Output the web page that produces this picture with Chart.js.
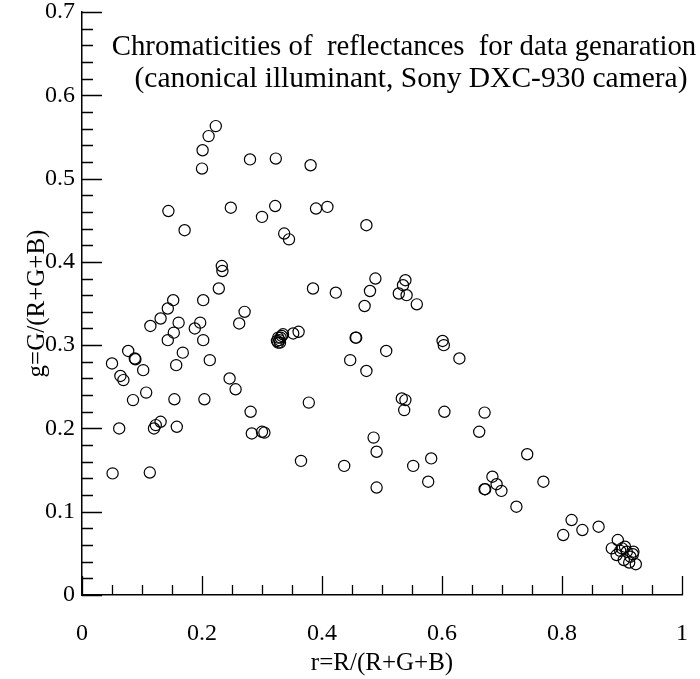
<!DOCTYPE html>
<html>
<head>
<meta charset="utf-8">
<script src="https://cdn.jsdelivr.net/npm/chart.js@4/dist/chart.umd.min.js"></script>
<style>
  html, body { margin: 0; padding: 0; background: #fff; }
  #wrap { width: 700px; height: 679px; }
</style>
</head>
<body>
<div id="wrap"><canvas id="c" width="700" height="679"></canvas></div>
<script>
// r = R/(R+G+B)
const rValues = [
  0.223, 0.211, 0.201, 0.200, 0.280, 0.323, 0.381, 0.144, 0.248, 0.300,
  0.322, 0.390, 0.409, 0.171, 0.337, 0.345, 0.474, 0.233, 0.234, 0.228,
  0.202, 0.152, 0.143, 0.271, 0.131, 0.114, 0.161, 0.197, 0.188, 0.262,
  0.153, 0.143, 0.202, 0.077, 0.168, 0.088, 0.089, 0.050, 0.157, 0.213,
  0.102, 0.064, 0.069, 0.246, 0.256, 0.107, 0.085, 0.154, 0.204, 0.281,
  0.062, 0.120, 0.123, 0.131, 0.158, 0.283, 0.300, 0.304, 0.051, 0.113,
  0.365, 0.437, 0.486, 0.491, 0.491, 0.552, 0.582, 0.577, 0.489, 0.480,
  0.471, 0.385, 0.423, 0.539, 0.535, 0.528, 0.541, 0.558, 0.325, 0.327,
  0.329, 0.331, 0.333, 0.327, 0.330, 0.335, 0.352, 0.361, 0.456, 0.457,
  0.507, 0.447, 0.474, 0.601, 0.603, 0.629, 0.378, 0.533, 0.539, 0.537,
  0.604, 0.671, 0.662, 0.742, 0.684, 0.691, 0.671, 0.672, 0.699, 0.769,
  0.724, 0.816, 0.802, 0.834, 0.861, 0.893, 0.883, 0.891, 0.900, 0.908,
  0.903, 0.914, 0.918, 0.912, 0.923, 0.897, 0.905, 0.919
];
// g = G/(R+G+B)
const gValues = [
  0.563, 0.551, 0.534, 0.512, 0.523, 0.524, 0.516, 0.461, 0.465, 0.454,
  0.467, 0.464, 0.466, 0.438, 0.434, 0.427, 0.444, 0.395, 0.389, 0.368,
  0.354, 0.354, 0.344, 0.340, 0.332, 0.323, 0.327, 0.327, 0.320, 0.326,
  0.315, 0.306, 0.306, 0.293, 0.291, 0.284, 0.283, 0.278, 0.276, 0.282,
  0.270, 0.263, 0.258, 0.260, 0.247, 0.243, 0.234, 0.235, 0.235, 0.220,
  0.200, 0.200, 0.204, 0.208, 0.202, 0.194, 0.196, 0.195, 0.146, 0.147,
  0.161, 0.155, 0.189, 0.172, 0.129, 0.155, 0.164, 0.136, 0.380, 0.365,
  0.347, 0.368, 0.363, 0.378, 0.372, 0.362, 0.360, 0.349, 0.305, 0.303,
  0.306, 0.309, 0.311, 0.309, 0.303, 0.313, 0.314, 0.316, 0.309, 0.309,
  0.293, 0.282, 0.269, 0.305, 0.300, 0.284, 0.231, 0.236, 0.234, 0.222,
  0.220, 0.219, 0.196, 0.169, 0.142, 0.133, 0.127, 0.127, 0.125, 0.136,
  0.106, 0.090, 0.072, 0.078, 0.082, 0.066, 0.056, 0.048, 0.056, 0.052,
  0.042, 0.046, 0.049, 0.039, 0.037, 0.053, 0.058, 0.052
];
const xTickValues = [0, 0.2, 0.4, 0.6, 0.8, 1];
const xTickLabels = ["0", "0.2", "0.4", "0.6", "0.8", "1"];
const yTickValues = [0, 0.1, 0.2, 0.3, 0.4, 0.5, 0.6, 0.7];
const yTickLabels = ["0", "0.1", "0.2", "0.3", "0.4", "0.5", "0.6", "0.7"];
const titleLines = [
  "Chromaticities of  reflectances  for data genaration",
  "(canonical illuminant, Sony DXC-930 camera)"
];
const xAxisTitle = "r=R/(R+G+B)";
const yAxisTitle = "g=G/(R+G+B)";

const FONT = '"Liberation Serif", "Times New Roman", serif';

const points = rValues.map((r, i) => ({ x: r, y: gValues[i] }));

// Inward tick marks drawn from the scales
const tickPlugin = {
  id: 'inwardTicks',
  afterDraw(chart) {
    const ctx = chart.ctx;
    const xs = chart.scales.x, ys = chart.scales.y;
    const area = chart.chartArea;
    ctx.save();
    ctx.strokeStyle = '#000';
    ctx.lineWidth = 1.3;
    ctx.beginPath();
    for (let k = 0; k <= 20; k++) {
      const v = k * 0.05;
      const px = Math.round(xs.getPixelForValue(v)) + 0.5;
      const len = (k % 4 === 0) ? 19 : 10;
      ctx.moveTo(px, area.bottom);
      ctx.lineTo(px, area.bottom - len);
    }
    for (let k = 0; k <= 35; k++) {
      const v = k * 0.02;
      const py = Math.round(ys.getPixelForValue(v)) + 0.5;
      const len = (k % 5 === 0) ? 20 : 11;
      ctx.moveTo(area.left, py);
      ctx.lineTo(area.left + len, py);
    }
    ctx.stroke();
    ctx.restore();
  }
};

const titlePlugin = {
  id: 'innerTitle',
  afterDraw(chart) {
    const ctx = chart.ctx;
    ctx.save();
    ctx.fillStyle = '#000';
    ctx.font = '28.8px ' + FONT;
    ctx.textAlign = 'center';
    ctx.textBaseline = 'middle';
    ctx.fillText(titleLines[0], 404, 47);
    ctx.font = '29.5px ' + FONT;
    ctx.fillText(titleLines[1], 411, 79);
    ctx.restore();
  }
};

function noOverhang(scale) {
  scale.paddingLeft = 0; scale.paddingRight = 0;
  scale.paddingTop = 0; scale.paddingBottom = 0;
}

new Chart(document.getElementById('c'), {
  type: 'scatter',
  data: {
    datasets: [{
      data: points,
      pointStyle: 'circle',
      pointRadius: 5.6,
      pointHoverRadius: 5.6,
      pointBorderWidth: 1.2,
      pointBorderColor: '#000',
      pointBackgroundColor: 'rgba(0,0,0,0)',
      showLine: false
    }]
  },
  options: {
    responsive: false,
    animation: false,
    devicePixelRatio: 1,
    layout: { autoPadding: false, padding: { left: 0, right: 18, top: 12, bottom: 0 } },
    plugins: {
      legend: { display: false },
      tooltip: { enabled: false },
      title: { display: false }
    },
    scales: {
      x: {
        type: 'linear',
        min: 0, max: 1,
        afterBuildTicks(scale) { scale.ticks = xTickValues.map(v => ({ value: v })); },
        afterFit(scale) { scale.height = 84; noOverhang(scale); },
        grid: { display: false, drawTicks: false, tickLength: 0 },
        border: { display: true, color: '#000', width: 1.5 },
        ticks: {
          padding: 24,
          color: '#000',
          font: { family: FONT, size: 24 },
          maxRotation: 0,
          callback(v) { const i = xTickValues.findIndex(t => Math.abs(t - v) < 1e-9); return i >= 0 ? xTickLabels[i] : ''; }
        },
        title: {
          display: true,
          text: xAxisTitle,
          color: '#000',
          font: { family: FONT, size: 25 },
          padding: { top: 0, bottom: 1 }
        }
      },
      y: {
        type: 'linear',
        min: 0, max: 0.7,
        afterBuildTicks(scale) { scale.ticks = yTickValues.map(v => ({ value: v })); },
        afterFit(scale) { scale.width = 82; noOverhang(scale); },
        grid: { display: false, drawTicks: false, tickLength: 0 },
        border: { display: true, color: '#000', width: 1.5 },
        ticks: {
          padding: 7,
          color: '#000',
          font: { family: FONT, size: 24 },
          callback(v) { const i = yTickValues.findIndex(t => Math.abs(t - v) < 1e-9); return i >= 0 ? yTickLabels[i] : ''; }
        },
        title: {
          display: true,
          text: yAxisTitle,
          color: '#000',
          font: { family: FONT, size: 25 },
          padding: { top: 22, bottom: 0 }
        }
      }
    }
  },
  plugins: [tickPlugin, titlePlugin]
});
</script>
</body>
</html>
